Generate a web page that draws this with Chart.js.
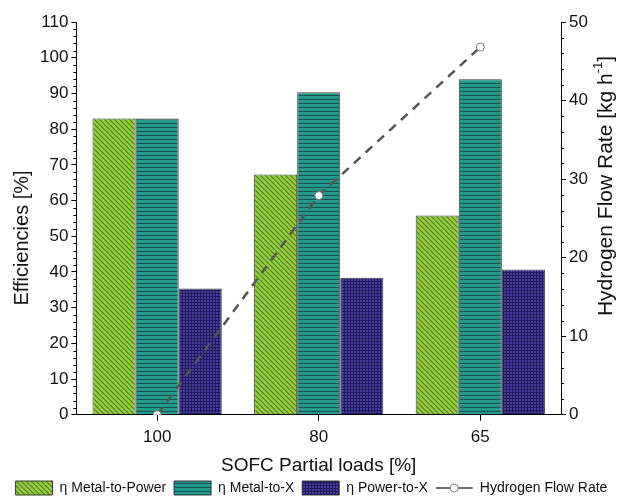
<!DOCTYPE html>
<html>
<head>
<meta charset="utf-8">
<script src="https://cdn.jsdelivr.net/npm/chart.js@4.4.0/dist/chart.umd.min.js"></script>
<style>
  html, body { margin: 0; padding: 0; background: #fff; }
</style>
</head>
<body>
<canvas id="chart" width="617" height="496"></canvas>
<script>
  // values
  const categories = ['100', '80', '65'];
  const metalToPower = [83, 67.3, 55.8];
  const metalToX = [83, 90.3, 94];
  const powerToX = [35.4, 38.4, 40.7];
  const hydrogenFlow = [0, 27.9, 46.8];

  Chart.defaults.font.family = "'Liberation Sans', Arial, sans-serif";
  Chart.defaults.color = '#111';

  function makePattern(size, base, line, draw) {
    const c = document.createElement('canvas');
    c.width = size; c.height = size;
    const g = c.getContext('2d');
    g.fillStyle = base;
    g.fillRect(0, 0, size, size);
    g.strokeStyle = line;
    draw(g, size);
    return document.getElementById('chart').getContext('2d').createPattern(c, 'repeat');
  }

  const greenFill = makePattern(5, '#9acd42', '#4c7c1d', (g, s) => {
    g.lineWidth = 1.2;
    for (let k = -s; k <= s; k += s) {
      g.beginPath(); g.moveTo(k, 0); g.lineTo(k + s, s); g.stroke();
    }
  });
  const tealFill = makePattern(4, '#26998d', '#14564f', (g, s) => {
    g.lineWidth = 1.2;
    g.beginPath(); g.moveTo(0, 3.5); g.lineTo(s, 3.5); g.stroke();
  });
  const navyFill = makePattern(3, '#463c9e', '#211a5a', (g, s) => {
    g.lineWidth = 1;
    g.beginPath(); g.moveTo(2.5, 0); g.lineTo(2.5, s); g.stroke();
    g.beginPath(); g.moveTo(0, 2.5); g.lineTo(s, 2.5); g.stroke();
  });

  const extras = {
    id: 'extras',
    afterDraw(chart) {
      const { ctx, chartArea, scales } = chart;
      ctx.save();
      ctx.strokeStyle = '#000';
      ctx.lineWidth = 1;
      for (let v = 0; v <= 110; v += 2) {
        if (v % 10 === 0) continue;
        const y = Math.round(scales.y.getPixelForValue(v)) + 0.5;
        ctx.beginPath(); ctx.moveTo(chartArea.left - 3, y); ctx.lineTo(chartArea.left, y); ctx.stroke();
      }
      for (let v = 0; v <= 50; v += 2) {
        if (v % 10 === 0) continue;
        const y = Math.round(scales.y1.getPixelForValue(v)) + 0.5;
        ctx.beginPath(); ctx.moveTo(chartArea.right, y); ctx.lineTo(chartArea.right + 3, y); ctx.stroke();
      }

      // y titles, both read bottom-to-top
      ctx.fillStyle = '#111';
      ctx.textBaseline = 'middle';
      ctx.font = "20px 'Liberation Sans', Arial, sans-serif";
      ctx.save();
      ctx.translate(22, 238);
      ctx.rotate(-Math.PI / 2);
      ctx.textAlign = 'center';
      ctx.fillText('Efficiencies [%]', 0, 0);
      ctx.restore();

      ctx.save();
      ctx.translate(606, 186);
      ctx.rotate(-Math.PI / 2);
      ctx.textAlign = 'left';
      const mainFont = "21px 'Liberation Sans', Arial, sans-serif";
      const supFont = "13px 'Liberation Sans', Arial, sans-serif";
      const p1 = 'Hydrogen Flow Rate [kg h', p2 = '-1', p3 = ']';
      ctx.font = mainFont; const w1 = ctx.measureText(p1).width, w3 = ctx.measureText(p3).width;
      ctx.font = supFont; const w2 = ctx.measureText(p2).width;
      let x = -(w1 + w2 + w3) / 2;
      ctx.font = mainFont; ctx.fillText(p1, x, 0); x += w1;
      ctx.font = supFont; ctx.fillText(p2, x, -8); x += w2;
      ctx.font = mainFont; ctx.fillText(p3, x, 0);
      ctx.restore();

      // legend symbol for the line series
      const legend = chart.legend;
      const idx = legend.legendItems.findIndex(it => it.datasetIndex === 3);
      const hb = legend.legendHitBoxes[idx];
      if (hb) {
        const bw = legend.options.labels.boxWidth;
        const cy = hb.top + hb.height / 2;
        ctx.strokeStyle = '#444';
        ctx.lineWidth = 1.5;
        ctx.beginPath(); ctx.moveTo(hb.left, cy); ctx.lineTo(hb.left + bw, cy); ctx.stroke();
        ctx.beginPath(); ctx.arc(hb.left + bw / 2, cy, 4, 0, Math.PI * 2);
        ctx.fillStyle = '#fff'; ctx.fill();
        ctx.strokeStyle = '#777'; ctx.lineWidth = 1; ctx.stroke();
      }
      ctx.restore();
    }
  };

  const barStyle = { borderColor: 'rgba(30,30,30,0.85)', borderWidth: 1, categoryPercentage: 0.8, barPercentage: 1.0, yAxisID: 'y', order: 1 };

  new Chart(document.getElementById('chart'), {
    type: 'bar',
    data: {
      labels: categories,
      datasets: [
        Object.assign({ label: 'η Metal-to-Power', data: metalToPower, backgroundColor: greenFill }, barStyle),
        Object.assign({ label: 'η Metal-to-X', data: metalToX, backgroundColor: tealFill }, barStyle),
        Object.assign({ label: 'η Power-to-X', data: powerToX, backgroundColor: navyFill }, barStyle),
        {
          type: 'line',
          label: 'Hydrogen Flow Rate',
          data: hydrogenFlow,
          yAxisID: 'y1',
          order: 0,
          borderColor: '#555',
          borderWidth: 2.5,
          borderDash: [9, 7],
          pointRadius: 4,
          pointBackgroundColor: '#fff',
          pointBorderColor: '#777',
          pointBorderWidth: 1,
          fill: false
        }
      ]
    },
    options: {
      responsive: false,
      animation: false,
      layout: { padding: { left: 6, right: 0, top: 22, bottom: -9 } },
      plugins: {
        tooltip: { enabled: false },
        legend: {
          position: 'bottom',
          labels: {
            boxWidth: 37,
            boxHeight: 14,
            padding: 4,
            font: { size: 14 },
            color: '#111',
            sort: (a, b) => a.datasetIndex - b.datasetIndex,
            generateLabels(chart) {
              const items = Chart.defaults.plugins.legend.labels.generateLabels(chart);
              items.forEach(it => {
                if (it.datasetIndex !== 3) it.text += ' ';
                if (it.datasetIndex === 3) {
                  it.fillStyle = 'rgba(0,0,0,0)';
                  it.strokeStyle = 'rgba(0,0,0,0)';
                  it.lineWidth = 0;
                  it.lineDash = [];
                }
              });
              return items;
            }
          }
        }
      },
      scales: {
        x: {
          offset: true,
          grid: { display: true, offset: false, drawOnChartArea: false, drawTicks: true, tickLength: 6, color: '#000' },
          border: { display: true, color: '#000' },
          ticks: { font: { size: 17 }, color: '#111', padding: 6 },
          title: { display: true, text: 'SOFC Partial loads [%]', font: { size: 19 }, color: '#111', padding: { top: 1, bottom: 0 } }
        },
        y: {
          position: 'left',
          min: 0, max: 110,
          afterFit(scale) { scale.width += 31; },
          ticks: { stepSize: 10, font: { size: 17 }, color: '#111', padding: 3 },
          grid: { display: true, drawOnChartArea: false, drawTicks: true, tickLength: 5, color: '#000' },
          border: { display: true, color: '#000' }
        },
        y1: {
          position: 'right',
          min: 0, max: 50,
          afterFit(scale) { scale.width += 26; },
          ticks: { stepSize: 10, font: { size: 17 }, color: '#111', padding: 3 },
          grid: { display: true, drawOnChartArea: false, drawTicks: true, tickLength: 5, color: '#000' },
          border: { display: true, color: '#000' }
        }
      }
    },
    plugins: [extras]
  });
</script>
</body>
</html>
